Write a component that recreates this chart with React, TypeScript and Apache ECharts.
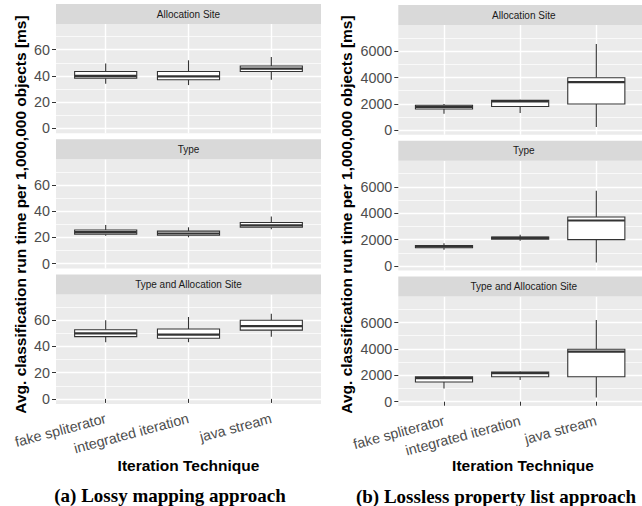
import React, { useEffect, useRef } from 'react';
import * as echarts from 'echarts';

const categories = ['fake spliterator', 'integrated iteration', 'java stream'];
const facetTitles = ['Allocation Site', 'Type', 'Type and Allocation Site'];

// each row: [min, Q1, median, Q3, max] for fake spliterator, integrated iteration, java stream
const lossyAllocationSite = [
  [34, 38.3, 40, 43.3, 49.5],
  [33, 37.1, 39.6, 43.4, 51.9],
  [37, 43.4, 45.5, 47.5, 54.4],
];
const lossyType = [
  [21.3, 22.5, 24, 25.7, 29.4],
  [20.1, 21.6, 23, 24.8, 27.7],
  [26.2, 27.7, 29.2, 31.4, 36],
];
const lossyTypeAndAllocationSite = [
  [43.3, 47.5, 50, 52.8, 60],
  [43.3, 46.3, 49, 53.3, 62.5],
  [47.5, 52.5, 55.5, 60, 65],
];

const losslessAllocationSite = [
  [1250, 1620, 1780, 1900, 2000],
  [1310, 1810, 2190, 2270, 2320],
  [250, 2000, 3650, 3980, 6550],
];
const losslessType = [
  [1240, 1390, 1480, 1560, 1720],
  [1920, 2030, 2130, 2200, 2380],
  [270, 2000, 3450, 3710, 5700],
];
const losslessTypeAndAllocationSite = [
  [1010, 1490, 1790, 1890, 1940],
  [1640, 1890, 2170, 2240, 2290],
  [330, 1890, 3800, 3980, 6200],
];

const lossyTicks = [0, 20, 40, 60];
const lossyMinorTicks = [10, 30, 50, 70];
const losslessTicks = [0, 2000, 4000, 6000];
const losslessMinorTicks = [1000, 3000, 5000, 7000];

const yTitle = 'Avg. classification run time per 1,000,000 objects [ms]';
const xTitle = 'Iteration Technique';
const captions = ['(a) Lossy mapping approach', '(b) Lossless property list approach'];

const SANS = '"Liberation Sans", Arial, sans-serif';
const SERIF = '"Liberation Serif", "Times New Roman", serif';

export default function App() {
  const ref = useRef<HTMLDivElement>(null);
  useEffect(() => {
    const chart = echarts.init(ref.current!, null, { renderer: 'svg' });

    const panels = [
      {
        left: 56, width: 265, top: 4, plotH: 109.3, yMin: -3.8, yMax: 79.6,
        facets: [lossyAllocationSite, lossyType, lossyTypeAndAllocationSite],
        ticks: lossyTicks, minor: lossyMinorTicks,
        yTitleX: 20, xTitleX: 188.5, captionX: 170, captionY: 495,
      },
      {
        left: 398.3, width: 251, top: 5, plotH: 109.7, yMin: -330, yMax: 7980,
        facets: [losslessAllocationSite, losslessType, losslessTypeAndAllocationSite],
        ticks: losslessTicks, minor: losslessMinorTicks,
        yTitleX: 346.5, xTitleX: 523, captionX: 496, captionY: 496,
      },
    ];
    const stripH = 20;
    const gap = 6;
    const tickFont = 14.3;

    const grid: any[] = [];
    const xAxis: any[] = [];
    const yAxis: any[] = [];
    const series: any[] = [];
    const graphic: any[] = [];

    const tickLine = { color: '#333333', width: 1 };

    panels.forEach((p, pi) => {
      p.facets.forEach((facetData, fi) => {
        const stripTop = p.top + fi * (stripH + p.plotH + gap);
        const gridTop = stripTop + stripH;
        const gIdx = grid.length;
        const isBottom = fi === 2;
        grid.push({
          left: p.left, top: gridTop, width: p.width, height: p.plotH,
          show: true, backgroundColor: '#EBEBEB', borderWidth: 0,
        });
        xAxis.push({
          gridIndex: gIdx, type: 'value', min: 0.4, max: 3.6,
          axisLine: { show: false },
          axisTick: { show: isBottom, customValues: [1, 2, 3], length: 4, lineStyle: tickLine },
          axisLabel: {
            show: isBottom, customValues: [1, 2, 3],
            formatter: (v: number) => categories[Math.round(v) - 1] || '',
            rotate: 15, fontSize: tickFont, color: '#4D4D4D', fontFamily: SANS, margin: 14,
          },
          splitLine: { show: true, lineStyle: { color: '#FFFFFF', width: 1.4 } },
        });
        const mainY = yAxis.length;
        yAxis.push({
          gridIndex: gIdx, type: 'value', min: p.yMin, max: p.yMax, position: 'left',
          axisLine: { show: false },
          axisTick: { show: true, customValues: p.ticks, length: 4, lineStyle: tickLine },
          axisLabel: {
            customValues: p.ticks, fontSize: tickFont, color: '#4D4D4D', fontFamily: SANS, margin: 6,
            formatter: (v: number) => String(Math.round(v)),
          },
          splitLine: { show: true, lineStyle: { color: '#FFFFFF', width: 1.4 } },
        });
        yAxis.push({
          gridIndex: gIdx, type: 'value', min: p.yMin, max: p.yMax, position: 'left',
          axisLine: { show: false },
          axisTick: { show: false, customValues: p.minor },
          axisLabel: { show: false, customValues: p.minor },
          splitLine: { show: true, lineStyle: { color: '#FFFFFF', width: 0.7 } },
        });
        series.push({
          type: 'custom',
          xAxisIndex: gIdx,
          yAxisIndex: mainY,
          z: 5,
          data: facetData.map((d, i) => [i + 1, ...d]),
          encode: { x: 0, y: [1, 2, 3, 4, 5] },
          renderItem: (params: any, api: any) => {
            const x = api.value(0);
            const lo = api.coord([x, api.value(1)]);
            const q1 = api.coord([x, api.value(2)]);
            const med = api.coord([x, api.value(3)]);
            const q3 = api.coord([x, api.value(4)]);
            const hi = api.coord([x, api.value(5)]);
            const w = api.size([0.75, 0])[0];
            const cx = lo[0];
            const stroke = '#333333';
            return {
              type: 'group',
              children: [
                { type: 'line', shape: { x1: cx, y1: hi[1], x2: cx, y2: q3[1] }, style: { stroke, lineWidth: 1.1 } },
                { type: 'line', shape: { x1: cx, y1: q1[1], x2: cx, y2: lo[1] }, style: { stroke, lineWidth: 1.1 } },
                {
                  type: 'rect',
                  shape: { x: cx - w / 2, y: q3[1], width: w, height: q1[1] - q3[1] },
                  style: { fill: '#FFFFFF', stroke, lineWidth: 1.1 },
                },
                { type: 'line', shape: { x1: cx - w / 2, y1: med[1], x2: cx + w / 2, y2: med[1] }, style: { stroke, lineWidth: 2.2 } },
              ],
            };
          },
        });
        graphic.push({
          type: 'rect', z: 10,
          shape: { x: p.left, y: stripTop, width: p.width, height: stripH },
          style: { fill: '#D9D9D9' },
        });
        graphic.push({
          type: 'text', z: 11,
          x: p.left + p.width / 2, y: stripTop + stripH / 2,
          style: {
            text: facetTitles[fi], font: `10px ${SANS}`, fill: '#1A1A1A',
            textAlign: 'center', textVerticalAlign: 'middle', align: 'center', verticalAlign: 'middle',
          },
        });
      });
      graphic.push({
        type: 'text', z: 11,
        x: p.yTitleX, y: 214.5, rotation: Math.PI / 2,
        style: {
          text: yTitle, font: `bold 15.5px ${SANS}`, fill: '#000000',
          textAlign: 'center', textVerticalAlign: 'middle', align: 'center', verticalAlign: 'middle',
        },
      });
      graphic.push({
        type: 'text', z: 11,
        x: p.xTitleX, y: 465.5,
        style: {
          text: xTitle, font: `bold 15.5px ${SANS}`, fill: '#000000',
          textAlign: 'center', textVerticalAlign: 'middle', align: 'center', verticalAlign: 'middle',
        },
      });
      graphic.push({
        type: 'text', z: 11,
        x: p.captionX, y: p.captionY,
        style: {
          text: captions[pi], font: `bold 19px ${SERIF}`, fill: '#000000',
          textAlign: 'center', textVerticalAlign: 'middle', align: 'center', verticalAlign: 'middle',
        },
      });
    });

    chart.setOption({
      animation: false,
      backgroundColor: '#FFFFFF',
      grid, xAxis, yAxis, series, graphic,
    });
    return () => chart.dispose();
  }, []);
  return <div ref={ref} style={{ position: 'absolute', left: 0, top: 0, width: 642, height: 506 }} />;
}
